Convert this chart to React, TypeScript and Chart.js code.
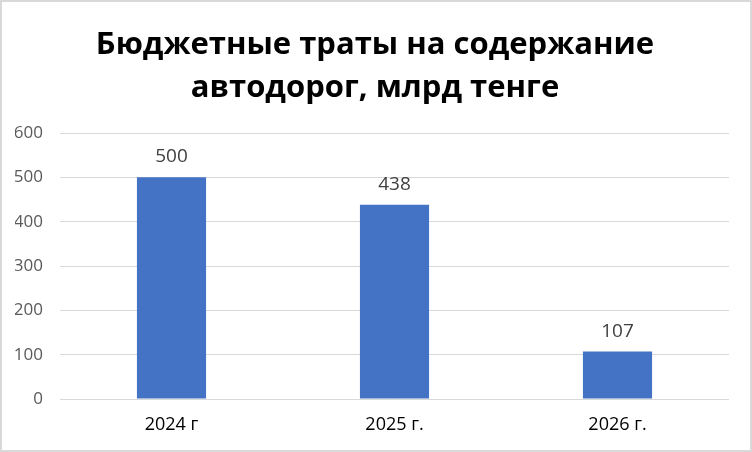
import React, { useEffect, useRef } from "react";
import { Chart, registerables } from "chart.js";

Chart.register(...registerables);

const titleLines = ["Бюджетные траты на содержание", "автодорог, млрд тенге"];
const categories = ["2024 г", "2025 г.", "2026 г."];
const values = [500, 438, 107];
const yTicks = [0, 100, 200, 300, 400, 500, 600];

const FONT = "'Open Sans', 'Liberation Sans', sans-serif";

const dataLabels = {
  id: "dataLabels",
  afterDatasetsDraw(chart: any) {
    const ctx = chart.ctx;
    const meta = chart.getDatasetMeta(0);
    ctx.save();
    ctx.font = `19px ${FONT}`;
    ctx.fillStyle = "#404040";
    ctx.textAlign = "center";
    ctx.textBaseline = "alphabetic";
    meta.data.forEach((bar: any, i: number) => {
      ctx.fillText(String(values[i]), bar.x, bar.y - 15);
    });
    ctx.restore();
  },
};

const centeredTitle = {
  id: "centeredTitle",
  afterDraw(chart: any) {
    const ctx = chart.ctx;
    ctx.save();
    ctx.font = `bold 31px ${FONT}`;
    ctx.fillStyle = "#000000";
    ctx.textAlign = "center";
    ctx.textBaseline = "middle";
    const cx = chart.width / 2 - 1;
    titleLines.forEach((line, i) => {
      ctx.fillText(line, cx, 45.5 + i * 43.1);
    });
    ctx.restore();
  },
};

export default function App() {
  const ref = useRef<HTMLCanvasElement>(null);
  useEffect(() => {
    document.body.style.margin = "0";
    const chart = new Chart(ref.current!, {
      type: "bar",
      data: {
        labels: categories,
        datasets: [
          {
            data: values,
            backgroundColor: "#4472C4",
            barPercentage: 0.31,
            categoryPercentage: 1,
          },
        ],
      },
      options: {
        animation: false,
        responsive: false,
        maintainAspectRatio: false,
        layout: { padding: { left: 15, right: 23, top: 133, bottom: 0 } },
        plugins: {
          legend: { display: false },
          tooltip: { enabled: false },
          title: { display: false },
        },
        scales: {
          x: {
            grid: { display: false, drawTicks: false },
            border: { display: false },
            afterFit: (axis: any) => {
              axis.height = 53;
            },
            ticks: {
              color: "#000000",
              font: { family: FONT, size: 18 },
              padding: 15,
            },
          },
          y: {
            min: 0,
            max: 600,
            afterBuildTicks: (axis: any) => {
              axis.ticks = yTicks.map((v) => ({ value: v }));
            },
            afterFit: (axis: any) => {
              axis.width = 45;
            },
            grid: { color: "#d9d9d9", lineWidth: 1, drawTicks: false },
            border: { display: false },
            ticks: {
              color: "#595959",
              font: { family: FONT, size: 17 },
              padding: 17,
            },
          },
        },
      },
      plugins: [dataLabels, centeredTitle],
    });
    return () => chart.destroy();
  }, []);
  return (
    <div
      style={{
        width: 752,
        height: 452,
        position: "relative",
        background: "#fff",
        overflow: "hidden",
      }}
    >
      <canvas
        ref={ref}
        width={752}
        height={452}
        style={{ display: "block", width: 752, height: 452 }}
      />
      <div
        style={{
          position: "absolute",
          left: 0,
          top: 0,
          width: 752,
          height: 452,
          boxSizing: "border-box",
          border: "2px solid #d9d9d9",
          pointerEvents: "none",
        }}
      />
    </div>
  );
}
